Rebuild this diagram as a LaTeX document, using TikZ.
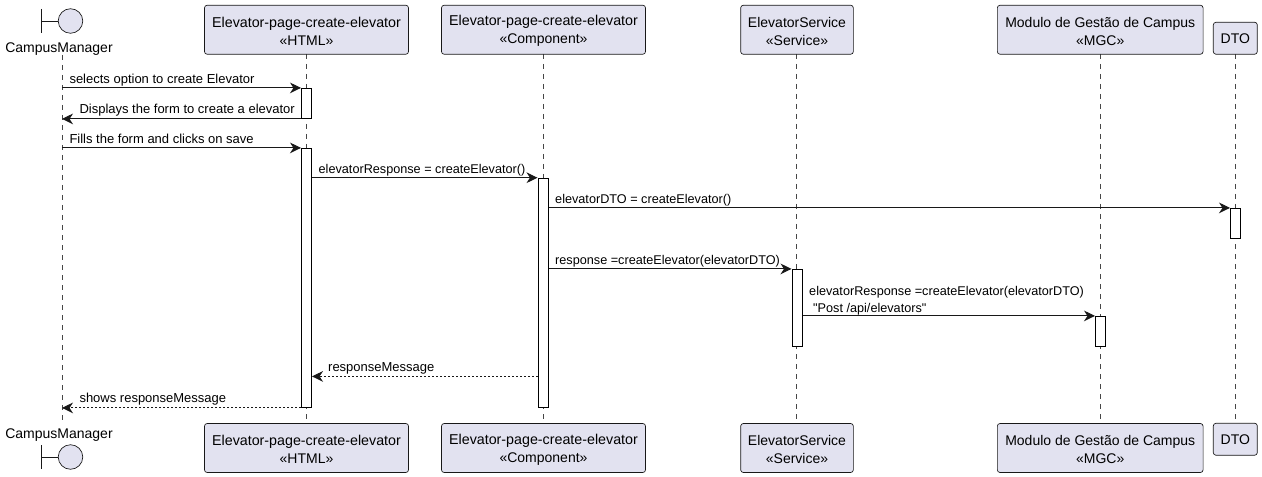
\documentclass[tikz,border=0pt]{standalone}
\usepackage{xcolor}
\usepackage{fontspec}
\setmainfont{Liberation Sans}
\newfontfamily\plainsans{Liberation Sans}
\usetikzlibrary{arrows.meta,positioning}
\definecolor{partfill}{HTML}{E2E2F0}
\definecolor{partline}{HTML}{181818}
\newcommand{\elevname}{{\fontsize{10.7}{13.6}\selectfont Elevator-page-create-elevator}}
\newcommand{\twolines}[2]{\rule{0pt}{9.8pt}#1\\#2}

\begin{document}
\begin{tikzpicture}[
  x=0.75pt, y=-0.75pt,
  part/.style={rectangle,rounded corners=2pt,draw=partline,line width=0.5pt,fill=partfill,align=center,minimum height=36.75pt,inner sep=0pt,font=\fontsize{10.5}{13.6}\selectfont},
  small/.style={minimum height=24pt},
  actorname/.style={inner sep=0pt,font=\fontsize{10.5}{13.6}\selectfont},
  bar/.style={rectangle,draw=black,line width=0.75pt,fill=white,minimum width=7.5pt,inner sep=0pt},
  life/.style={draw=partline!80,line width=0.4pt,dash pattern=on 3.75pt off 3.75pt},
  msg/.style={draw=partline,line width=0.75pt,-{Stealth[length=8.25pt,width=8pt,inset=2.6pt]}},
  reply/.style={msg,dash pattern=on 1.5pt off 1.5pt},
  lbl/.style={inner sep=0pt,anchor=base west,font=\fontsize{9.75}{12.2}\selectfont},
  lblr/.style={lbl,pos=0,xshift=5.25pt,yshift=3.2pt},
  lbll/.style={lbl,pos=1,xshift=12.75pt,yshift=3.9pt},
  lblc/.style={lblr,xshift=-0.6pt,font=\fontsize{9.5}{12.2}\selectfont}
]
\useasboundingbox (0,0) rectangle (1262,477);

% lifeline ends
\coordinate (campusT) at (62,55);
\coordinate (campusB) at (62,423);
\coordinate (htmlT) at (306,54);
\coordinate (htmlB) at (306,423);
\coordinate (compT) at (543,54);
\coordinate (compB) at (543,423);
\coordinate (serviceT) at (796.5,54);
\coordinate (serviceB) at (796.5,423);
\coordinate (mgcT) at (1100,54);
\coordinate (mgcB) at (1100,423);
\coordinate (dtoT) at (1235.5,54);
\coordinate (dtoB) at (1235.5,423);

\draw[life] (campusT) -- (campusB);
\draw[life] (htmlT) -- (htmlB);
\draw[life] (compT) -- (compB);
\draw[life] (serviceT) -- (serviceB);
\draw[life] (mgcT) -- (mgcB);
\draw[life] (dtoT) -- (dtoB);

% boundary actor, top and bottom
\node[circle,draw=partline,line width=0.5pt,fill=partfill,minimum size=18.4pt,inner sep=0pt] (campusC) at (70.5,21) {};
\coordinate (campusL) at (41,21);
\draw[partline,line width=0.5pt] (campusL) -- (campusC);
\draw[partline,line width=0.5pt] (41,9) -- (41,33);
\node[actorname] (campusN) at (59,49.2) {CampusManager};
\node[circle,draw=partline,line width=0.5pt,fill=partfill,minimum size=18.4pt,inner sep=0pt] (campusD) at (70.5,457) {};
\coordinate (campusM) at (41,457);
\draw[partline,line width=0.5pt] (campusM) -- (campusD);
\draw[partline,line width=0.5pt] (41,445) -- (41,469);
\node[actorname] (campusO) at (59,435.2) {CampusManager};

% participants
\node[part,minimum width=153pt] (htmlA) at (306.5,29.75) {\twolines{\elevname}{«HTML»}};
\node[part,minimum width=153pt] (compA) at (543.5,29.75) {\twolines{\elevname}{«Component»}};
\node[part,minimum width=84.5pt] (serviceA) at (797,29.75) {\twolines{ElevatorService}{«Service»}};
\node[part,minimum width=154.3pt] (mgcA) at (1100.2,29.75) {\twolines{Modulo de Gestão de Campus}{«MGC»}};
\node[part,small,minimum width=33pt] (dtoA) at (1235.3,38.25) {DTO};
\node[part,minimum width=153pt] (htmlZ) at (306.5,448) {\twolines{\elevname}{«HTML»}};
\node[part,minimum width=153pt] (compZ) at (543.5,448) {\twolines{\elevname}{«Component»}};
\node[part,minimum width=84.5pt] (serviceZ) at (797,448) {\twolines{ElevatorService}{«Service»}};
\node[part,minimum width=154.3pt] (mgcZ) at (1100.2,448) {\twolines{Modulo de Gestão de Campus}{«MGC»}};
\node[part,small,minimum width=33pt] (dtoZ) at (1235.3,439.25) {DTO};

% activations
\node[bar,minimum height=22.5pt] (htmlBarA) at (306.5,103.4) {};
\node[bar,minimum height=194.25pt] (htmlBarB) at (306.5,277.9) {};
\node[bar,minimum height=172pt] (compBar) at (543,292.9) {};
\node[bar,minimum height=22.5pt] (dtoBar) at (1235.5,223.4) {};
\node[bar,minimum height=57.75pt] (serviceBar) at (797,307.9) {};
\node[bar,minimum height=22.5pt] (mgcBar) at (1100.5,331.4) {};

% arrows
\draw[msg] (campusT |- htmlBarA.north west) -- node[lblr]{selects option to create Elevator} (htmlBarA.north west);
\draw[msg] (htmlBarA.south west) -- node[lbll]{Displays the form to create a elevator} (campusT |- htmlBarA.south west);
\draw[msg] (campusT |- htmlBarB.north west) -- node[lblr]{Fills the form and clicks on save} (htmlBarB.north west);
\draw[msg] (htmlBarB.east |- compBar.north) -- node[lblc]{elevatorResponse = createElevator()} (compBar.north west);
\draw[msg] (compBar.east |- dtoBar.north) -- node[lblc]{elevatorDTO = createElevator()} (dtoBar.north west);
\draw[msg] (compBar.east |- serviceBar.north) -- node[lblc]{response =createElevator(elevatorDTO)} (serviceBar.north west);
\draw[msg] (serviceBar.east |- mgcBar.north) -- node[lblc,anchor=south west,align=left,yshift=-2.8pt]{elevatorResponse =createElevator(elevatorDTO)\\\hspace*{3pt}{\plainsans"Post /api/elevators"}} (mgcBar.north west);
\coordinate (respY) at (543,376.4);
\draw[reply] (compBar.west |- respY) -- node[lbll,xshift=-1pt]{responseMessage} (htmlBarB.east |- respY);
\draw[reply] (htmlBarB.south west) -- node[lbll]{shows responseMessage} (campusT |- htmlBarB.south west);
\end{tikzpicture}
\end{document}
